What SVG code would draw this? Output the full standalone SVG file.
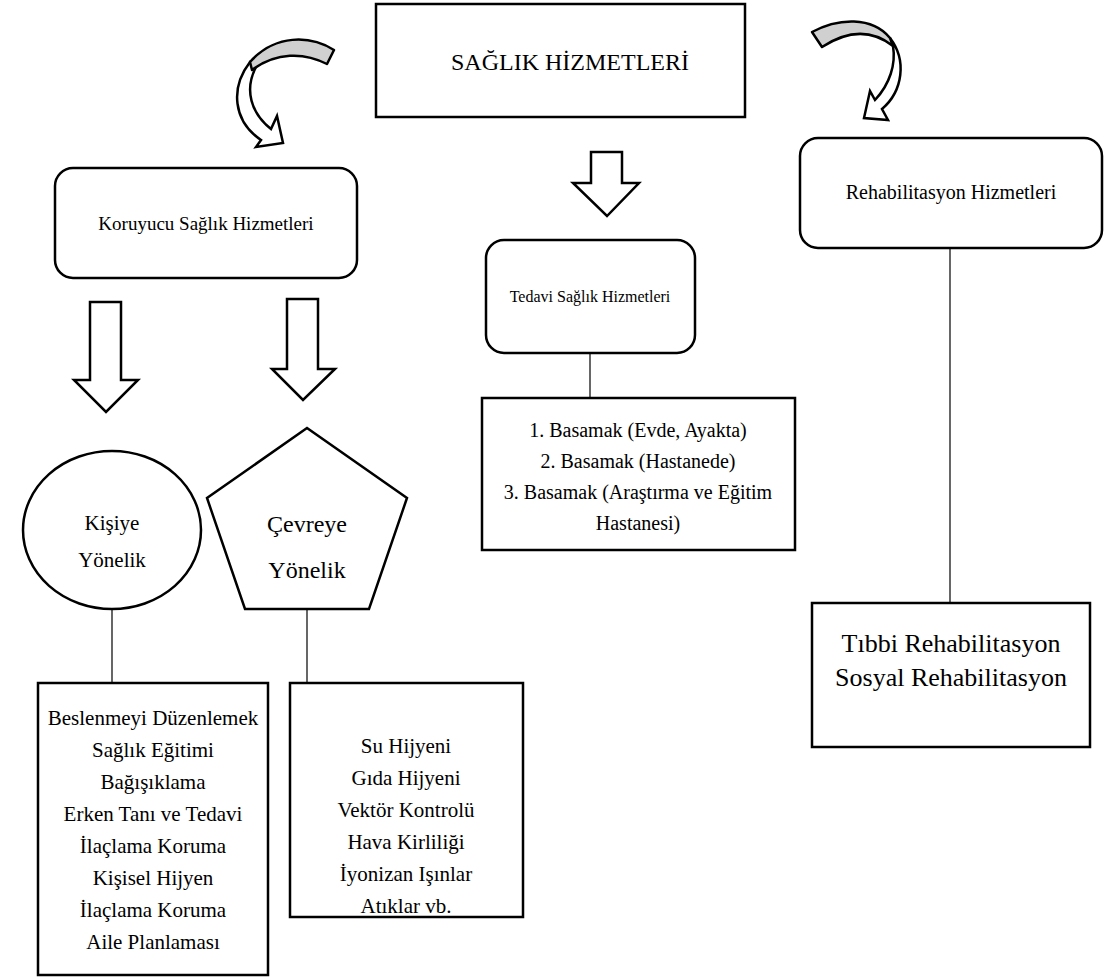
<svg xmlns="http://www.w3.org/2000/svg" width="1106" height="980" viewBox="0 0 1106 980">
<style>
text{font-family:"Liberation Serif","Times New Roman",serif;fill:#000;text-anchor:middle}
.box{fill:#fff;stroke:#000;stroke-width:2.5}
.blk{fill:#fff;stroke:#000;stroke-width:2.5;stroke-linejoin:miter}
.gray{fill:#d0d0d0;stroke:#000;stroke-width:2.5;stroke-linejoin:round}
.wh{fill:#fff;stroke:#000;stroke-width:2.5;stroke-linejoin:miter}
.conn{stroke:#000;stroke-width:1.2;fill:none}
.s16{font-size:16px}.s19{font-size:19px}.s20{font-size:20px}.s21{font-size:21px}.s24{font-size:24px}.s26{font-size:26px}
</style>
<rect width="1106" height="980" fill="#fff"/>
<g id="connectors">
<line class="conn" x1="112" y1="609" x2="112" y2="683"/>
<line class="conn" x1="307" y1="609" x2="307" y2="683"/>
<line class="conn" x1="590" y1="353" x2="590" y2="398"/>
<line class="conn" x1="950" y1="248" x2="950" y2="603"/>
</g>
<g id="arrows">
<path class="wh" d="M250,62 C230,88 233,121 261,140 L256,147 L283,143 L277,116 L271,129 C251,113 244,90 256,67 Z"/>
<path class="gray" d="M250,62 C275,34 310,35 334,50 L327,64 C304,52 276,52 252,70 Z"/>
<path class="wh" d="M890,38 C907,60 903,91 882,109 L888,120 L864,118 L870,91 L875,100 C890,84 896,64 893,46 Z"/>
<path class="gray" d="M812,32 C838,18 872,16 890,38 L893,46 C870,28 845,32 822,47 Z"/>
<path class="blk" d="M591,152 H622 V183 H639 L607,216 L573,183 H591 Z"/>
<path class="blk" d="M90,302 H121 V380 H138 L106,412 L74,380 H90 Z"/>
<path class="blk" d="M287,299 H318 V369 H335 L303,400 L272,369 H287 Z"/>
</g>
<g id="n-title">
<rect class="box" x="376" y="4" width="369" height="113"/>
<text class="s24" x="570" y="70">SAĞLIK HİZMETLERİ</text>
</g>
<g id="n-koruyucu">
<rect class="box" x="55" y="168" width="302" height="110" rx="18"/>
<text class="s19" x="206" y="230">Koruyucu Sağlık Hizmetleri</text>
</g>
<g id="n-tedavi">
<rect class="box" x="486" y="240" width="209" height="113" rx="18"/>
<text class="s16" x="590" y="302">Tedavi Sağlık Hizmetleri</text>
</g>
<g id="n-rehab">
<rect class="box" x="800" y="138" width="302" height="110" rx="18"/>
<text class="s20" x="951" y="199">Rehabilitasyon Hizmetleri</text>
</g>
<g id="n-kisiye">
<ellipse class="box" cx="112" cy="530" rx="89" ry="79"/>
<text class="s21" x="112" y="530">Kişiye</text>
<text class="s21" x="112" y="567">Yönelik</text>
</g>
<g id="n-cevreye">
<polygon class="box" points="307,428 407,498 369,609 245,609 207,498"/>
<text class="s24" x="307" y="532">Çevreye</text>
<text class="s24" x="307" y="578">Yönelik</text>
</g>
<g id="n-kisiye-list">
<rect class="box" x="38" y="683" width="230" height="292"/>
<text class="s21" x="153" y="725">Beslenmeyi Düzenlemek</text>
<text class="s21" x="153" y="757">Sağlık Eğitimi</text>
<text class="s21" x="153" y="789">Bağışıklama</text>
<text class="s21" x="153" y="821">Erken Tanı ve Tedavi</text>
<text class="s21" x="153" y="853">İlaçlama Koruma</text>
<text class="s21" x="153" y="885">Kişisel Hijyen</text>
<text class="s21" x="153" y="917">İlaçlama Koruma</text>
<text class="s21" x="153" y="949">Aile Planlaması</text>
</g>
<g id="n-cevreye-list">
<rect class="box" x="290" y="683" width="233" height="234"/>
<text class="s21" x="406" y="753">Su Hijyeni</text>
<text class="s21" x="406" y="785">Gıda Hijyeni</text>
<text class="s21" x="406" y="817">Vektör Kontrolü</text>
<text class="s21" x="406" y="849">Hava Kirliliği</text>
<text class="s21" x="406" y="881">İyonizan Işınlar</text>
<text class="s21" x="406" y="913">Atıklar vb.</text>
</g>
<g id="n-basamak">
<rect class="box" x="482" y="398" width="313" height="152"/>
<text class="s20" x="638" y="437">1. Basamak (Evde, Ayakta)</text>
<text class="s20" x="638" y="468">2. Basamak (Hastanede)</text>
<text class="s20" x="638" y="499">3. Basamak (Araştırma ve Eğitim</text>
<text class="s20" x="638" y="530">Hastanesi)</text>
</g>
<g id="n-rehab-list">
<rect class="box" x="812" y="603" width="278" height="144"/>
<text class="s26" x="951" y="652">Tıbbi Rehabilitasyon</text>
<text class="s26" x="951" y="686">Sosyal Rehabilitasyon</text>
</g>
</svg>
